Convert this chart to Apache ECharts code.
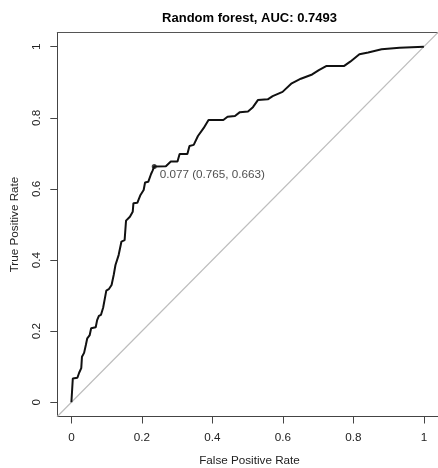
<!DOCTYPE html>
<html>
<head>
<meta charset="utf-8">
<script src="https://cdn.jsdelivr.net/npm/echarts@6/dist/echarts.min.js"></script>
<style>html,body{margin:0;padding:0;background:#fff}#c{width:438px;height:468px}</style>
</head>
<body>
<div id="c"></div>
<script>
var titleText = "Random forest, AUC: 0.7493";
var xTitle = "False Positive Rate";
var yTitle = "True Positive Rate";
var tickValues = [0, 0.2, 0.4, 0.6, 0.8, 1];
var tickLabels = ["0", "0.2", "0.4", "0.6", "0.8", "1"];
var fpr = [0, 0.004, 0.017, 0.022, 0.028, 0.030, 0.036, 0.041, 0.045, 0.052, 0.056, 0.069, 0.073, 0.078, 0.084, 0.090, 0.095, 0.099, 0.106, 0.114, 0.120, 0.125, 0.134, 0.142, 0.151, 0.155, 0.166, 0.174, 0.176, 0.187, 0.196, 0.205, 0.209, 0.218, 0.226, 0.230, 0.235, 0.268, 0.282, 0.301, 0.307, 0.329, 0.335, 0.347, 0.359, 0.375, 0.389, 0.431, 0.443, 0.464, 0.478, 0.501, 0.515, 0.529, 0.557, 0.571, 0.599, 0.625, 0.651, 0.683, 0.702, 0.724, 0.774, 0.791, 0.817, 0.842, 0.880, 0.931, 1];
var tpr = [0, 0.067, 0.069, 0.083, 0.096, 0.128, 0.139, 0.161, 0.180, 0.189, 0.208, 0.211, 0.231, 0.243, 0.246, 0.266, 0.269, 0.314, 0.318, 0.330, 0.358, 0.386, 0.414, 0.452, 0.456, 0.511, 0.522, 0.536, 0.560, 0.561, 0.583, 0.597, 0.618, 0.620, 0.642, 0.651, 0.663, 0.664, 0.677, 0.677, 0.698, 0.698, 0.721, 0.724, 0.749, 0.771, 0.794, 0.794, 0.803, 0.805, 0.816, 0.818, 0.830, 0.850, 0.852, 0.861, 0.873, 0.897, 0.910, 0.922, 0.934, 0.946, 0.946, 0.958, 0.979, 0.984, 0.993, 0.997, 1];
var diagX = [-0.04, 1.04];
var diagY = [-0.04, 1.04];
var bestFpr = 0.235;
var bestTpr = 0.663;
var bestLabel = "0.077 (0.765, 0.663)";

var FONT = "Liberation Sans, Arial, Helvetica, sans-serif";
var curve = fpr.map(function (v, i) { return [v, tpr[i]]; });
var diag = diagX.map(function (v, i) { return [v, diagY[i]]; });
function fmt(v) { var i = tickValues.indexOf(Math.round(v * 10) / 10); return i >= 0 ? tickLabels[i] : ''; }

var chart = echarts.init(document.getElementById('c'), null, { renderer: 'canvas' });
chart.setOption({
  animation: false,
  backgroundColor: '#ffffff',
  grid: { left: 57.3, top: 32.5, width: 385, height: 384, containLabel: false },
  graphic: [
    { type: 'text', x: 249.5, y: 18, style: { text: titleText, font: 'bold 13px ' + FONT, fill: '#000', align: 'center', verticalAlign: 'middle' } },
    { type: 'text', x: 249.5, y: 460.5, style: { text: xTitle, font: '11.7px ' + FONT, fill: '#222', align: 'center', verticalAlign: 'middle' } },
    { type: 'text', x: 15, y: 224.5, rotation: Math.PI / 2, style: { text: yTitle, font: '11.7px ' + FONT, fill: '#222', align: 'center', verticalAlign: 'middle' } }
  ],
  xAxis: [{
    type: 'value', min: -0.04, max: 1.04, position: 'bottom',
    axisLine: { show: true, onZero: false, lineStyle: { color: '#444', width: 1 } },
    axisTick: { show: true, inside: false, length: 7, customValues: tickValues, lineStyle: { color: '#444' } },
    axisLabel: { show: true, customValues: tickValues, formatter: fmt, margin: 15, color: '#222', fontSize: 11.7, fontFamily: FONT },
    splitLine: { show: false }
  }, {
    type: 'value', min: -0.04, max: 1.04, position: 'top',
    axisLine: { show: true, onZero: false, lineStyle: { color: '#555', width: 1 } },
    axisTick: { show: false }, axisLabel: { show: false }, splitLine: { show: false }
  }],
  yAxis: [{
    type: 'value', min: -0.04, max: 1.04, position: 'left',
    axisLine: { show: true, onZero: false, lineStyle: { color: '#444', width: 1 } },
    axisTick: { show: true, inside: false, length: 7, customValues: tickValues, lineStyle: { color: '#444' } },
    axisLabel: { show: true, customValues: tickValues, formatter: fmt, rotate: 90, margin: 15, color: '#222', fontSize: 11.7, fontFamily: FONT },
    splitLine: { show: false }
  }],
  series: [{
    type: 'line', data: diag, xAxisIndex: 0, yAxisIndex: 0, symbol: 'none', silent: true,
    lineStyle: { color: '#bdbdbd', width: 1.2 }
  }, {
    type: 'line', data: curve, xAxisIndex: 0, yAxisIndex: 0, symbol: 'none',
    lineStyle: { color: '#111', width: 2 }
  }, {
    type: 'scatter', data: [[bestFpr, bestTpr]], xAxisIndex: 0, yAxisIndex: 0,
    symbol: 'circle', symbolSize: 5, itemStyle: { color: '#111' },
    label: { show: true, position: 'right', formatter: bestLabel, offset: [0, 8], distance: 3, color: '#222', fontSize: 11.7, fontFamily: FONT }
  }]
});
</script>
</body>
</html>
